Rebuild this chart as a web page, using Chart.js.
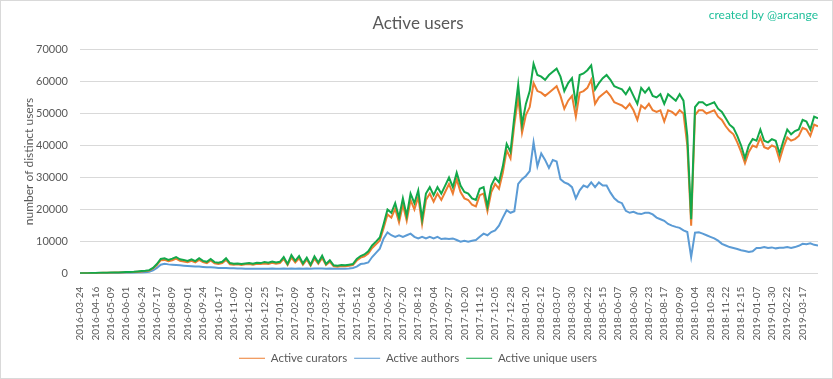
<!DOCTYPE html>
<html>
<head>
<meta charset="utf-8">
<title>Active users</title>
<script src="https://cdn.jsdelivr.net/npm/chart.js@4/dist/chart.umd.min.js"></script>
<style>
  body { margin: 0; background: #fff; }
  #wrap { width: 833px; height: 379px; box-sizing: border-box; border: 1px solid #d9d9d9; position: relative; }
</style>
</head>
<body>
<div id="wrap"><canvas id="chart"></canvas></div>
<script>
// Date labels shown under the x axis (one every 23 days)
const tickLabels = [
  '2016-03-24', '2016-04-16', '2016-05-09', '2016-06-01', '2016-06-24', '2016-07-17', '2016-08-09', '2016-09-01',
  '2016-09-24', '2016-10-17', '2016-11-09', '2016-12-02', '2016-12-25', '2017-01-17', '2017-02-09', '2017-03-04',
  '2017-03-27', '2017-04-19', '2017-05-12', '2017-06-04', '2017-06-27', '2017-07-20', '2017-08-12', '2017-09-04',
  '2017-09-27', '2017-10-20', '2017-11-12', '2017-12-05', '2017-12-28', '2018-01-20', '2018-02-12', '2018-03-07',
  '2018-03-30', '2018-04-22', '2018-05-15', '2018-06-07', '2018-06-30', '2018-07-23', '2018-08-17', '2018-09-09',
  '2018-10-04', '2018-10-28', '2018-11-22', '2018-12-15', '2019-01-07', '2019-01-30', '2019-02-22', '2019-03-17'
];
const daysPerTick = 23;
const readingsPerTick = 4;

const seriesNames = ['Active curators', 'Active authors', 'Active unique users'];

const curators = [
  80, 120, 120, 160, 160, 200, 250, 250, 300, 330,
  330, 380, 420, 470, 500, 600, 700, 800, 950, 1600,
  2700, 4200, 4300, 3900, 4200, 4700, 4000, 3800, 3600, 4000,
  3500, 4300, 3600, 3300, 4100, 3200, 3000, 3300, 4300, 2900,
  2800, 2900, 2700, 2900, 3000, 2800, 3100, 3000, 3200, 3000,
  3400, 3100, 3300, 4600, 2700, 5000, 3500, 4800, 2800, 4400,
  2500, 4700, 3100, 4900, 2700, 3700, 2300, 2200, 2400, 2300,
  2500, 2700, 4100, 5000, 5400, 6300, 8000, 9200, 10400, 14300,
  18500, 17500, 20300, 16000, 21500, 16500, 23000, 20000, 24000, 15500,
  23000, 25000, 22500, 25000, 23000, 25500, 28000, 25000, 29500, 25500,
  23500, 23000, 21500, 21000, 24500, 25000, 19500, 25500, 28000, 26500,
  31500, 38500, 36000, 46500, 55000, 44000, 49500, 52000, 59500, 57000,
  56500, 55500, 56500, 57500, 58500, 55500, 51500, 54000, 55500, 49000,
  56500, 57000, 58000, 60500, 53000, 55000, 56000, 57000, 55500, 53500,
  53000, 52500, 51500, 53000, 51000, 48000, 52500, 51500, 53000, 51000,
  50500, 51000, 47500, 51000, 50500, 49500, 51000, 50000, 40000, 15000,
  49500, 51000, 51000, 50000, 50500, 51000, 49000, 48000, 46000, 44500,
  43500, 41000, 38000, 34500, 38000, 40000, 39500, 42500, 39500, 39000,
  40000, 39500, 35500, 39500, 42500, 41500, 42000, 43000, 45500, 45000,
  43000, 46500, 46000
];

const authors = [
  50, 80, 80, 100, 100, 120, 150, 150, 180, 200,
  200, 250, 250, 300, 300, 350, 400, 450, 600, 1000,
  1800, 2800, 3100, 2900, 2800, 2700, 2600, 2500, 2400, 2300,
  2200, 2200, 2100, 2000, 2000, 1900, 1800, 1800, 1800, 1700,
  1700, 1600, 1600, 1500, 1500, 1500, 1500, 1500, 1500, 1500,
  1600, 1500, 1500, 1600, 1500, 1600, 1500, 1600, 1500, 1600,
  1500, 1600, 1600, 1600, 1500, 1600, 1500, 1500, 1500, 1500,
  1600, 1800, 2200, 3000, 3200, 3500, 5200, 6500, 7800, 11000,
  12900, 12000, 11500, 12000, 11500, 12000, 12500, 11500, 11000, 11500,
  11000, 11500, 11000, 11500, 10800, 11000, 10800, 11000, 10500, 10000,
  10300, 10000, 10300, 10500, 11500, 12500, 12000, 13000, 13500, 15000,
  17500, 19800, 19000, 19500, 28000, 29500, 30500, 32000, 41000, 33500,
  37500, 35500, 33000, 35500, 35000, 29500, 28500, 28000, 27000, 23500,
  26000, 27500, 27000, 28500, 27000, 28500, 27500, 27500, 25300, 23500,
  22500, 22000, 19600, 19000, 19300, 18800, 18600, 19000, 19000, 18500,
  17500, 17000, 16500, 15500, 15000, 14600, 14300, 13500, 13000, 5200,
  12800, 12900, 12500, 12000, 11500, 11000, 10300, 9300, 8800, 8300,
  8000, 7700, 7300, 7100, 6800, 7000, 8000, 8000, 8300, 8000,
  8200, 7900, 8100, 8100, 8300, 8000, 8300, 8700, 9300, 9200,
  9500, 9000, 8800
];

const uniqueUsers = [
  100, 150, 150, 200, 200, 250, 300, 300, 350, 400,
  400, 450, 500, 550, 600, 700, 800, 900, 1100, 1800,
  3000, 4600, 4800, 4300, 4700, 5200, 4500, 4300, 4000, 4500,
  3900, 4800, 4000, 3700, 4600, 3600, 3400, 3700, 4800, 3300,
  3100, 3200, 3000, 3200, 3300, 3100, 3400, 3300, 3600, 3400,
  3800, 3500, 3700, 5200, 3000, 5800, 4000, 5500, 3200, 5000,
  2800, 5400, 3500, 5600, 3000, 4200, 2600, 2500, 2700, 2600,
  2800, 3000, 4600, 5500, 6000, 7000, 8800, 10000, 11300, 15500,
  20000, 19000, 22000, 17500, 23500, 18000, 25000, 22000, 26000, 17000,
  25000, 27000, 24500, 27000, 25000, 27500, 30000, 27000, 31500, 27500,
  25500, 25000, 23500, 23000, 26500, 27000, 21000, 27500, 30000, 28500,
  33500, 40500, 38000, 49000, 59000, 46500, 53000, 57000, 65500, 62000,
  61500, 60500, 62000, 63000, 64000, 61500, 57000, 59500, 61000, 53000,
  62000, 62500, 63500, 65000, 57500, 59500, 61000, 62000, 60500, 58500,
  58000, 57500, 56000, 58000, 55500, 53000, 58000, 56500, 58000, 55500,
  55000, 56000, 53000, 56000, 55000, 54000, 56000, 54000, 43000, 17000,
  52000, 53500, 53500, 52500, 53000, 53500, 51500, 50500, 48500, 46500,
  45500, 43000, 40000, 36000, 40000, 42000, 41500, 45000, 41500, 41000,
  42000, 41500, 37500, 41500, 45000, 43500, 44500, 45000, 48000, 47500,
  45000, 49000, 48500
];

const yMax = 70000;
const yStep = 10000;

const textColor = '#595959';
const fontFamily = 'Lato, "Open Sans", sans-serif';

// Turn a list of readings into {x: day, y: value} points
function toPoints(values) {
  return values.map((v, i) => ({ x: i * daysPerTick / readingsPerTick, y: v }));
}

// Draws the "created by" note in the top right corner
const creditPlugin = {
  id: 'credit',
  afterDraw(chart) {
    const ctx = chart.ctx;
    ctx.save();
    ctx.font = '12px ' + fontFamily;
    ctx.fillStyle = '#1fbf9a';
    ctx.textAlign = 'right';
    ctx.textBaseline = 'middle';
    ctx.fillText('created by @arcange', chart.width - 14, 14);
    ctx.restore();
  }
};

const lastDay = (curators.length - 1) * daysPerTick / readingsPerTick;

new Chart(document.getElementById('chart'), {
  type: 'line',
  data: {
    datasets: [
      { label: seriesNames[0], data: toPoints(curators), borderColor: '#ed7d31', backgroundColor: '#ed7d31', order: 1 },
      { label: seriesNames[1], data: toPoints(authors), borderColor: '#5b9bd5', backgroundColor: '#5b9bd5', order: 2 },
      { label: seriesNames[2], data: toPoints(uniqueUsers), borderColor: '#13a84a', backgroundColor: '#13a84a', order: 0 }
    ]
  },
  options: {
    responsive: true,
    maintainAspectRatio: false,
    animation: false,
    elements: {
      point: { radius: 0 },
      line: { borderWidth: 2, tension: 0 }
    },
    layout: { padding: { left: 17, right: 14, top: 0, bottom: 4 } },
    plugins: {
      title: {
        display: true,
        text: 'Active users',
        color: textColor,
        font: { family: fontFamily, size: 17, weight: 'normal' },
        padding: { top: 12, bottom: 16 }
      },
      legend: {
        position: 'bottom',
        labels: {
          color: textColor,
          font: { family: fontFamily, size: 11.5 },
          usePointStyle: true,
          pointStyle: 'line',
          pointStyleWidth: 26,
          padding: 7,
          sort: (a, b) => a.datasetIndex - b.datasetIndex
        }
      },
      tooltip: { enabled: false }
    },
    scales: {
      x: {
        type: 'linear',
        min: 0,
        max: lastDay,
        grid: { display: false },
        border: { display: false },
        afterBuildTicks: scale => {
          scale.ticks = tickLabels.map((_, i) => ({ value: i * daysPerTick }));
        },
        ticks: {
          autoSkip: false,
          maxRotation: 90,
          minRotation: 90,
          padding: 5,
          color: textColor,
          font: { family: fontFamily, size: 10 },
          callback: (value) => tickLabels[Math.round(value / daysPerTick)] || ''
        }
      },
      y: {
        min: 0,
        max: yMax,
        afterFit: scale => { scale.width = 62; },
        grid: { color: '#d9d9d9', drawTicks: false },
        border: { display: false },
        ticks: {
          stepSize: yStep,
          padding: 12,
          color: textColor,
          font: { family: fontFamily, size: 11 },
          callback: (value) => String(value)
        },
        title: {
          display: true,
          text: 'number of distinct users',
          color: textColor,
          font: { family: fontFamily, size: 12 },
          padding: { top: 4, bottom: 0 }
        }
      }
    }
  },
  plugins: [creditPlugin]
});
</script>
</body>
</html>
